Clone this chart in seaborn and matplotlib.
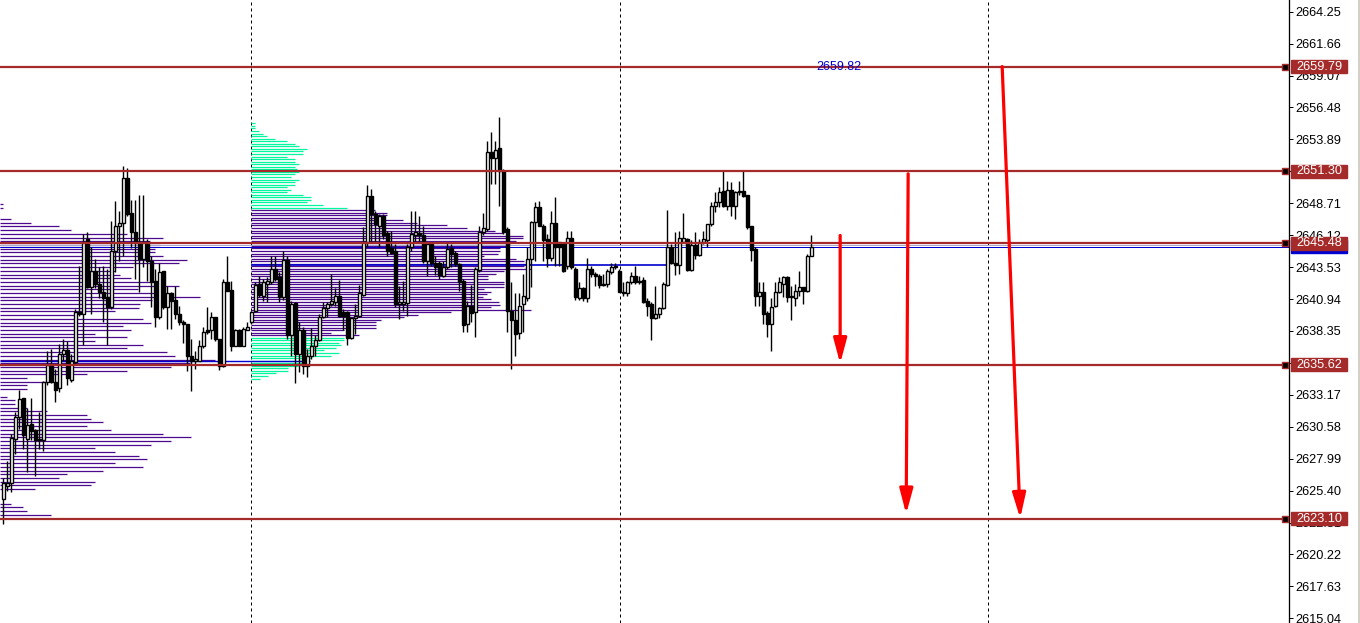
import matplotlib
matplotlib.use("Agg")
import numpy as np
import pandas as pd
import matplotlib.pyplot as plt
import seaborn as sns
from matplotlib.patches import Rectangle
from matplotlib.transforms import blended_transform_factory

# ---------------- data ----------------
opens = [2624.7, 2625.8, 2626.0, 2629.6, 2631.4, 2632.9, 2629.6, 2630.8, 2630.3, 2629.5,
         2629.5, 2634.2, 2635.6, 2634.2, 2633.7, 2636.5, 2636.8, 2634.4, 2635.8, 2639.9,
         2639.7, 2645.8, 2641.9, 2643.2, 2642.2, 2641.5, 2641.1, 2640.3, 2644.8, 2646.9,
         2647.1, 2650.8, 2647.9, 2646.4, 2645.6, 2644.2, 2645.6, 2644.0, 2642.4, 2639.5,
         2643.2, 2640.3, 2641.4, 2640.9, 2639.7, 2639.1, 2638.9, 2636.3, 2635.9, 2635.9,
         2637.1, 2638.4, 2638.4, 2639.5, 2637.7, 2635.5, 2642.3, 2641.7, 2637.1, 2638.4,
         2637.1, 2638.4, 2639.1, 2640.0, 2642.2, 2641.2, 2642.2, 2642.3, 2643.4, 2642.7,
         2641.1, 2644.1, 2638.0, 2640.6, 2636.5, 2638.4, 2635.5, 2636.3, 2637.1, 2637.6,
         2639.5, 2640.2, 2640.5, 2640.7, 2641.2, 2639.9, 2639.9, 2637.8, 2639.4, 2639.6,
         2641.3, 2645.6, 2649.3, 2647.8, 2646.9, 2647.7, 2646.3, 2645.1, 2644.8, 2640.5,
         2640.5, 2640.6, 2645.2, 2646.1, 2646.3, 2646.1, 2644.0, 2645.4, 2643.9, 2643.9,
         2642.8, 2643.5, 2645.1, 2644.7, 2643.8, 2642.4, 2638.9, 2640.4, 2639.9, 2643.3,
         2646.4, 2646.6, 2652.9, 2652.4, 2653.2, 2651.3, 2646.6, 2640.0, 2639.2, 2638.2,
         2640.5, 2641.0, 2644.2, 2647.2, 2648.4, 2646.9, 2645.8, 2644.3, 2647.1, 2645.6,
         2645.4, 2643.6, 2645.9, 2643.4, 2641.0, 2641.8, 2641.0, 2643.4, 2643.0, 2642.8,
         2642.2, 2642.2, 2643.1, 2643.5, 2643.2, 2641.5, 2641.4, 2642.3, 2642.8, 2642.3,
         2642.5, 2640.8, 2640.5, 2639.4, 2639.7, 2640.2, 2642.1, 2645.2, 2643.9, 2643.7,
         2645.6, 2645.8, 2643.3, 2645.3, 2644.5, 2645.6, 2645.7, 2647.0, 2648.5, 2648.8,
         2649.7, 2648.5, 2649.8, 2648.5, 2649.6, 2649.7, 2649.4, 2646.9, 2645.0, 2641.2,
         2641.5, 2639.8, 2638.9, 2640.4, 2641.5, 2642.2, 2642.7, 2641.1, 2641.0, 2641.6,
         2641.9, 2641.6, 2644.4]
highs = [2626.4, 2627.8, 2630.0, 2631.8, 2633.6, 2632.9, 2632.1, 2632.9, 2630.4, 2631.8,
         2634.3, 2636.7, 2636.9, 2635.3, 2637.3, 2637.7, 2637.5, 2636.5, 2640.1, 2643.6,
         2646.2, 2646.4, 2645.2, 2644.2, 2643.5, 2643.6, 2643.4, 2647.3, 2648.9, 2648.1,
         2651.7, 2651.6, 2649.0, 2649.0, 2649.4, 2649.4, 2645.8, 2644.4, 2643.4, 2643.9,
         2643.2, 2642.0, 2641.5, 2642.0, 2640.4, 2639.2, 2638.9, 2637.7, 2636.7, 2637.6,
         2638.7, 2640.3, 2639.9, 2639.5, 2637.7, 2642.6, 2644.4, 2642.4, 2638.5, 2638.5,
         2638.7, 2639.1, 2640.0, 2642.3, 2642.8, 2642.6, 2642.7, 2644.4, 2644.4, 2643.1,
         2644.8, 2644.4, 2640.8, 2640.7, 2639.1, 2638.7, 2636.9, 2638.6, 2638.0, 2639.7,
         2640.7, 2640.7, 2643.0, 2641.8, 2642.5, 2640.1, 2640.0, 2639.5, 2640.5, 2642.1,
         2646.8, 2650.2, 2649.9, 2648.1, 2647.8, 2647.8, 2646.5, 2646.5, 2645.4, 2642.0,
         2642.4, 2645.4, 2648.1, 2648.1, 2647.7, 2646.9, 2645.6, 2645.6, 2644.4, 2644.0,
         2644.0, 2645.5, 2645.4, 2644.8, 2643.9, 2642.6, 2640.8, 2642.1, 2643.5, 2646.9,
         2647.9, 2653.8, 2654.5, 2653.8, 2655.7, 2651.5, 2646.8, 2642.3, 2641.4, 2641.4,
         2643.0, 2645.2, 2647.3, 2648.8, 2648.9, 2647.0, 2646.2, 2648.1, 2649.2, 2645.6,
         2645.6, 2646.5, 2646.5, 2643.5, 2642.3, 2641.9, 2644.3, 2643.6, 2643.1, 2643.0,
         2643.0, 2643.4, 2643.9, 2643.9, 2643.4, 2642.3, 2642.4, 2643.1, 2643.6, 2642.8,
         2642.7, 2641.0, 2640.7, 2642.0, 2640.3, 2642.3, 2648.2, 2645.4, 2646.4, 2646.5,
         2647.9, 2645.9, 2645.7, 2646.4, 2645.8, 2646.5, 2647.0, 2648.8, 2649.6, 2650.0,
         2651.3, 2650.5, 2650.4, 2649.7, 2650.5, 2651.3, 2649.4, 2646.9, 2645.2, 2642.3,
         2642.3, 2640.0, 2641.0, 2642.3, 2642.7, 2642.8, 2642.8, 2642.0, 2642.2, 2643.2,
         2641.9, 2644.6, 2646.1]
lows = [2622.7, 2625.4, 2625.3, 2628.4, 2630.4, 2628.8, 2626.9, 2629.5, 2626.6, 2628.8,
        2628.6, 2634.0, 2634.1, 2632.6, 2633.4, 2635.9, 2634.0, 2634.2, 2635.7, 2639.6,
        2637.2, 2641.8, 2639.7, 2641.8, 2641.0, 2639.1, 2637.2, 2640.1, 2643.1, 2644.0,
        2644.4, 2647.7, 2645.1, 2642.6, 2641.5, 2643.5, 2642.4, 2640.3, 2638.7, 2639.3,
        2640.1, 2638.5, 2638.5, 2639.3, 2638.8, 2637.4, 2635.1, 2633.5, 2635.3, 2635.9,
        2637.0, 2638.1, 2637.7, 2637.5, 2635.2, 2635.4, 2641.6, 2636.7, 2637.1, 2637.1,
        2637.1, 2638.4, 2638.9, 2639.9, 2641.1, 2640.8, 2640.7, 2642.2, 2642.4, 2640.7,
        2640.9, 2637.7, 2636.3, 2634.1, 2635.0, 2634.9, 2634.6, 2636.1, 2636.3, 2637.5,
        2639.4, 2639.5, 2640.4, 2640.4, 2639.5, 2638.4, 2637.2, 2637.7, 2638.1, 2639.5,
        2641.2, 2645.2, 2645.6, 2645.6, 2645.2, 2645.8, 2644.4, 2644.6, 2640.3, 2639.3,
        2640.0, 2639.6, 2644.8, 2645.6, 2645.6, 2643.9, 2642.8, 2643.6, 2642.9, 2642.6,
        2642.7, 2643.4, 2643.5, 2643.6, 2641.6, 2638.3, 2638.3, 2639.1, 2637.9, 2643.1,
        2646.1, 2646.5, 2650.3, 2650.3, 2648.5, 2646.2, 2638.3, 2635.3, 2636.3, 2637.7,
        2638.3, 2640.8, 2641.9, 2644.0, 2646.9, 2644.0, 2643.5, 2644.0, 2643.6, 2643.6,
        2643.1, 2643.4, 2643.4, 2640.9, 2640.9, 2640.8, 2640.7, 2642.7, 2642.0, 2641.8,
        2642.0, 2641.9, 2643.0, 2643.4, 2641.5, 2641.2, 2641.2, 2642.2, 2642.2, 2642.2,
        2640.6, 2639.6, 2637.6, 2639.3, 2639.4, 2640.1, 2642.0, 2643.8, 2642.9, 2643.0,
        2645.6, 2643.2, 2643.2, 2644.2, 2644.4, 2645.4, 2645.2, 2646.9, 2648.0, 2648.4,
        2648.4, 2648.2, 2647.7, 2647.4, 2649.4, 2649.2, 2646.6, 2644.0, 2640.4, 2640.4,
        2638.9, 2637.9, 2636.7, 2640.3, 2641.4, 2641.1, 2640.7, 2639.2, 2640.4, 2641.2,
        2640.5, 2641.5, 2644.4]
closes = [2626.0, 2626.0, 2629.7, 2631.4, 2632.8, 2629.9, 2630.7, 2630.2, 2629.5, 2629.6,
          2634.2, 2635.6, 2634.2, 2633.6, 2636.5, 2636.8, 2634.5, 2635.9, 2639.9, 2639.7,
          2645.6, 2641.9, 2643.2, 2642.2, 2641.5, 2641.0, 2640.3, 2644.8, 2646.9, 2647.1,
          2650.8, 2647.8, 2646.4, 2645.6, 2644.2, 2645.6, 2644.0, 2642.3, 2639.5, 2643.1,
          2640.3, 2641.4, 2640.8, 2639.7, 2639.1, 2638.9, 2636.3, 2635.9, 2636.1, 2637.1,
          2638.3, 2638.3, 2639.5, 2637.7, 2635.5, 2642.3, 2641.6, 2637.1, 2638.4, 2637.1,
          2638.5, 2638.7, 2639.9, 2642.1, 2641.3, 2642.3, 2642.4, 2643.4, 2642.6, 2641.1,
          2644.1, 2638.0, 2640.5, 2636.5, 2638.4, 2635.5, 2636.3, 2637.1, 2637.6, 2639.5,
          2640.2, 2640.5, 2640.8, 2641.2, 2639.6, 2639.6, 2637.8, 2639.4, 2639.6, 2641.4,
          2645.6, 2649.3, 2647.8, 2647.0, 2647.7, 2646.1, 2644.8, 2644.7, 2640.5, 2640.7,
          2640.7, 2645.2, 2646.2, 2646.4, 2646.1, 2644.0, 2645.4, 2643.9, 2643.5, 2642.9,
          2643.5, 2645.0, 2644.6, 2643.8, 2642.3, 2638.8, 2640.4, 2639.8, 2643.4, 2646.4,
          2646.7, 2652.9, 2652.4, 2653.0, 2651.3, 2646.4, 2640.0, 2639.2, 2638.1, 2640.4,
          2641.2, 2644.2, 2647.2, 2648.4, 2646.9, 2645.7, 2644.3, 2647.1, 2645.2, 2645.2,
          2643.2, 2645.9, 2643.5, 2641.1, 2641.8, 2641.0, 2643.4, 2643.0, 2642.8, 2642.1,
          2642.1, 2643.2, 2643.5, 2643.6, 2641.5, 2641.4, 2642.3, 2642.8, 2642.3, 2642.4,
          2640.7, 2640.4, 2639.4, 2639.7, 2640.2, 2642.2, 2645.2, 2643.9, 2643.7, 2645.9,
          2645.9, 2643.3, 2645.3, 2644.5, 2645.6, 2645.8, 2647.0, 2648.5, 2648.8, 2649.6,
          2648.5, 2649.8, 2648.5, 2649.6, 2649.7, 2649.3, 2646.8, 2644.9, 2641.2, 2641.5,
          2639.7, 2638.9, 2640.3, 2641.5, 2642.3, 2642.7, 2641.1, 2641.2, 2641.6, 2641.9,
          2641.6, 2644.4, 2645.2]

# volume profile of the previous session (left), price rows from the top
left_top_price = 2648.63
left_row_step = 0.30
left_volume = [3, 3, 0, 0, 11, 31, 59, 71, 127, 163,
               150, 160, 155, 155, 163, 187, 179, 133, 115, 120,
               131, 150, 179, 138, 160, 200, 152, 140, 139, 115,
               77, 143, 151, 123, 131, 95, 127, 95, 143, 127,
               167, 175, 215, 190, 171, 127, 87, 27, 47, 27,
               27, 0, 7, 15, 15, 27, 47, 87, 91, 103,
               87, 111, 163, 191, 171, 151, 95, 115, 139, 147,
               115, 143, 103, 67, 59, 95, 91, 35, 0, 0,
               0, 11, 23, 27, 51]
left_poc = 2635.95

# volume profile of the middle session
mid_top_price = 2655.19
mid_row_step = 0.207
mid_volume = [4, 4, 4, 8, 12, 16, 24, 36, 44, 48,
              56, 52, 52, 36, 44, 44, 48, 44, 46, 48,
              44, 40, 48, 44, 44, 36, 40, 36, 52, 60,
              60, 56, 72, 96, 124, 136, 136, 130, 152, 166,
              196, 216, 244, 252, 272, 272, 265, 260, 255, 249,
              249, 247, 233, 265, 273, 280, 273, 280, 253, 245,
              237, 237, 253, 253, 253, 233, 240, 236, 232, 240,
              248, 249, 240, 280, 200, 167, 153, 130, 125, 125,
              125, 93, 80, 108, 93, 93, 88, 90, 85, 73,
              88, 80, 60, 58, 52, 47, 37, 37, 25, 17, 9]
mid_value_area = (34, 83)          # first / last row inside the value area
mid_poc = 2643.70
mid_poc_end = 165.9                # bar index where the POC ray stops

# horizontal levels and right-axis labels
levels = [2659.79, 2651.30, 2645.48, 2635.62, 2623.10]
blue_level = 2645.18
grey_level = 2645.33
yticks = [2664.25, 2661.66, 2659.07, 2656.48, 2653.89, 2651.30, 2648.71, 2646.12,
          2643.53, 2640.94, 2638.35, 2635.76, 2633.17, 2630.58, 2627.99, 2625.40,
          2622.81, 2620.22, 2617.63, 2615.04]
session_breaks = [61.9, 154.2, 246.2]
note_text = "2659.82"
note_pos = (208.8, 2659.79)
arrows = [((209.2, 2646.1), (209.2, 2635.7)),
          ((226.2, 2651.1), (225.7, 2623.5)),
          ((249.7, 2659.8), (254.2, 2623.15))]

# ---------------- style ----------------
sns.set_theme(style="white")
plt.rcParams["font.family"] = ["Liberation Sans", "DejaVu Sans"]

BROWN = "#A52A2A"
PURPLE = "#4E0A8F"
CYAN = "#00F79E"
BLUE = "#0000D0"

W, H = 1360, 623
fig = plt.figure(figsize=(W / 100, H / 100), dpi=100)
fig.patch.set_facecolor("white")
ax = fig.add_axes([0, 0, 1289 / W, 1])
ax.set_facecolor("white")

x_left, x_right = -0.825, 321.4
ax.set_xlim(x_left, x_right)
ax.set_ylim(2614.66, 2665.2)
px = 0.72  # one pixel in points
vol_to_x = 0.25

# session separators
for s in session_breaks:
    ax.axvline(s, color="black", lw=px, ls=(0, (3, 3)), zorder=1)

# volume profiles
lp = pd.DataFrame({"price": left_top_price - left_row_step * np.arange(len(left_volume)),
                   "vol": left_volume})
lp = lp[lp.vol > 0]
ax.hlines(lp.price, x_left, x_left + lp.vol * vol_to_x, color=PURPLE, lw=0.9, zorder=2)

mp = pd.DataFrame({"price": mid_top_price - mid_row_step * np.arange(len(mid_volume)),
                   "vol": mid_volume})
mp["row"] = np.arange(len(mp))
inva = (mp.row >= mid_value_area[0]) & (mp.row <= mid_value_area[1])
x0 = session_breaks[0]
ax.hlines(mp.price[inva], x0, x0 + mp.vol[inva] * vol_to_x, color=PURPLE, lw=0.9, zorder=2)
ax.hlines(mp.price[~inva], x0, x0 + mp.vol[~inva] * vol_to_x, color=CYAN, lw=0.9, zorder=2)

# POC rays and blue/grey lines
ax.hlines(left_poc, x_left, 76.7, color=BLUE, lw=1.0, zorder=2.5)
ax.hlines(mid_poc, x0, mid_poc_end, color=BLUE, lw=1.2, zorder=2.5)
ax.axhline(grey_level, color="#A8A8C8", lw=px, zorder=2.5)
ax.axhline(blue_level, color=BLUE, lw=px, zorder=2.5)

# candles
df = pd.DataFrame({"o": opens, "h": highs, "l": lows, "c": closes})
df["x"] = np.arange(len(df))
ax.vlines(df.x, df.l, df.h, color="black", lw=1.0, zorder=3)
bull = df.c >= df.o
body_lo = np.minimum(df.o, df.c)
body_h = np.maximum((df.c - df.o).abs(), 0.05)
ax.bar(df.x[bull], body_h[bull], bottom=body_lo[bull], width=0.68, color="white",
       edgecolor="black", linewidth=1.0, zorder=4)
ax.bar(df.x[~bull], body_h[~bull], bottom=body_lo[~bull], width=0.68, color="black",
       edgecolor="black", linewidth=1.0, zorder=4)

# horizontal levels
for lv in levels:
    ax.axhline(lv, color=BROWN, lw=1.6, zorder=5)

# text note
ax.text(note_pos[0], note_pos[1], note_text, color=BLUE, fontsize=9,
        ha="center", va="center", zorder=6)

# red arrows
for (sx, sy), (ex, ey) in arrows:
    ax.annotate("", xy=(ex, ey), xytext=(sx, sy),
                arrowprops=dict(arrowstyle="-|>,head_length=0.75,head_width=0.2",
                                mutation_scale=20, color="#FF0000", lw=2.3,
                                shrinkA=0, shrinkB=0), zorder=6)

# right axis
for side in ["top", "bottom", "left"]:
    ax.spines[side].set_visible(False)
ax.spines["right"].set_visible(True)
ax.spines["right"].set_color("black")
ax.spines["right"].set_linewidth(px * 1.3)
ax.set_xticks([])
ax.yaxis.tick_right()
ax.set_yticks(yticks)
ax.set_yticklabels([f"{v:.2f}" for v in yticks])
ax.tick_params(axis="y", direction="out", length=3.2, width=px, pad=1.2,
               labelsize=9.2, colors="black")
ax.grid(False)

# price labels on the axis
blend = blended_transform_factory(fig.transFigure, ax.transData)
bx0, bw = 1291 / W, 56 / W
bh = 13 / 12.33


def price_label(price, text, color, z):
    ax.add_patch(Rectangle((bx0, price - bh / 2), bw, bh, transform=blend,
                           facecolor=color, edgecolor=color, clip_on=False, zorder=z))
    ax.text(bx0 + bw / 2, price, text, transform=blend, color="white", fontsize=9.2,
            ha="center", va="center", clip_on=False, zorder=z + 0.1)


price_label(blue_level, f"{blue_level:.2f}", BLUE, 6)
for lv in levels:
    price_label(lv, f"{lv:.2f}", BROWN, 7)
    ax.plot([1285 / W], [lv], transform=blend, marker="s", ms=4, mfc="black",
            mec=BROWN, mew=1, clip_on=False, zorder=8)

fig.patches.append(Rectangle((1358 / W, 0), 2 / W, 1, transform=fig.transFigure,
                             facecolor="#D4D0C8", edgecolor="none"))

fig.savefig("out.png", dpi=100, facecolor="white")
